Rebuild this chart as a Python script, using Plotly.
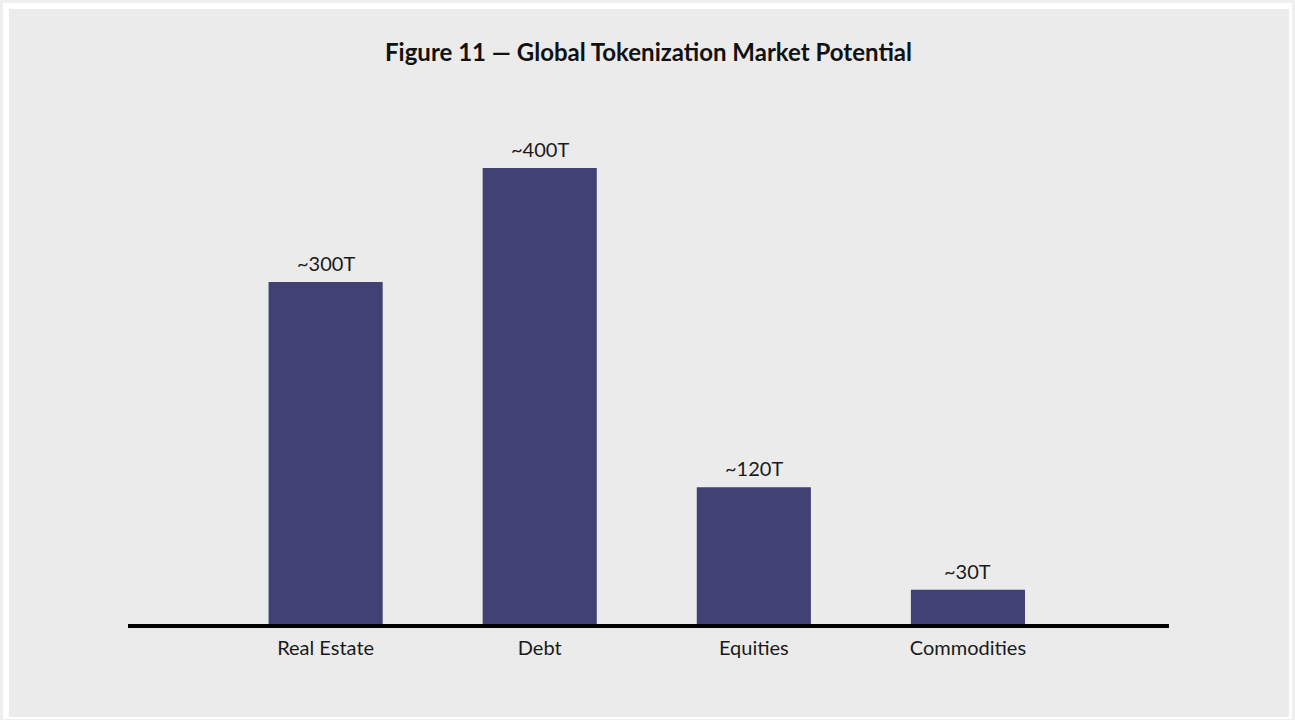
import plotly.graph_objects as go

categories = ["Real Estate", "Debt", "Equities", "Commodities"]
values = [300, 400, 120, 30]
value_labels = ["~300T", "~400T", "~120T", "~30T"]
title_text = "Figure 11 — Global Tokenization Market Potential"

W, H = 1295, 720
L, R, T, B = 128, 126, 100, 96
pw = W - L - R
ph = H - T - B

def px_x(x):
    return (x - L) / pw

def px_y(y):
    return 1 - (y - T) / ph

FONT = "Lato, 'Open Sans', sans-serif"
BAR = "#414173"

fig = go.Figure()
fig.add_trace(go.Bar(
    x=categories, y=values,
    marker=dict(color=BAR, line=dict(width=0)),
    width=0.533,
    hoverinfo="skip",
))

for c, v, t in zip(categories, values, value_labels):
    fig.add_annotation(x=c, y=v, text=t, showarrow=False, yanchor="bottom",
                       yshift=5, font=dict(family=FONT, size=20, color="#1a1a1a"))

shapes = [
    dict(type="rect", xref="paper", yref="paper", x0=px_x(0), x1=px_x(W), y0=px_y(0), y1=px_y(H),
         fillcolor="#efefef", line=dict(width=0), layer="below"),
    dict(type="rect", xref="paper", yref="paper", x0=px_x(3), x1=px_x(1292), y0=px_y(3), y1=px_y(719),
         fillcolor="#ffffff", line=dict(width=0), layer="below"),
    dict(type="rect", xref="paper", yref="paper", x0=px_x(9), x1=px_x(1289), y0=px_y(9), y1=px_y(717),
         fillcolor="#ebebeb", line=dict(width=0), layer="below"),
]

fig.update_layout(
    width=W, height=H,
    margin=dict(l=L, r=R, t=T, b=B, pad=0),
    paper_bgcolor="#efefef",
    plot_bgcolor="rgba(0,0,0,0)",
    shapes=shapes,
    showlegend=False,
    title=dict(text="<b>" + title_text + "</b>", x=0.5, xref="paper", xanchor="center",
               y=1 - 53 / H, yanchor="middle",
               font=dict(family=FONT, size=24, color="#111111")),
    xaxis=dict(range=[-0.923, 3.939], showgrid=False, zeroline=False,
               showline=True, linecolor="#000000", linewidth=4,
               ticks="outside", ticklen=3, tickcolor="rgba(0,0,0,0)",
               tickfont=dict(family=FONT, size=20, color="#1a1a1a"), fixedrange=True),
    yaxis=dict(range=[0, ph / 1.14], visible=False, fixedrange=True),
    font=dict(family=FONT),
)

fig.write_html("out.html")
